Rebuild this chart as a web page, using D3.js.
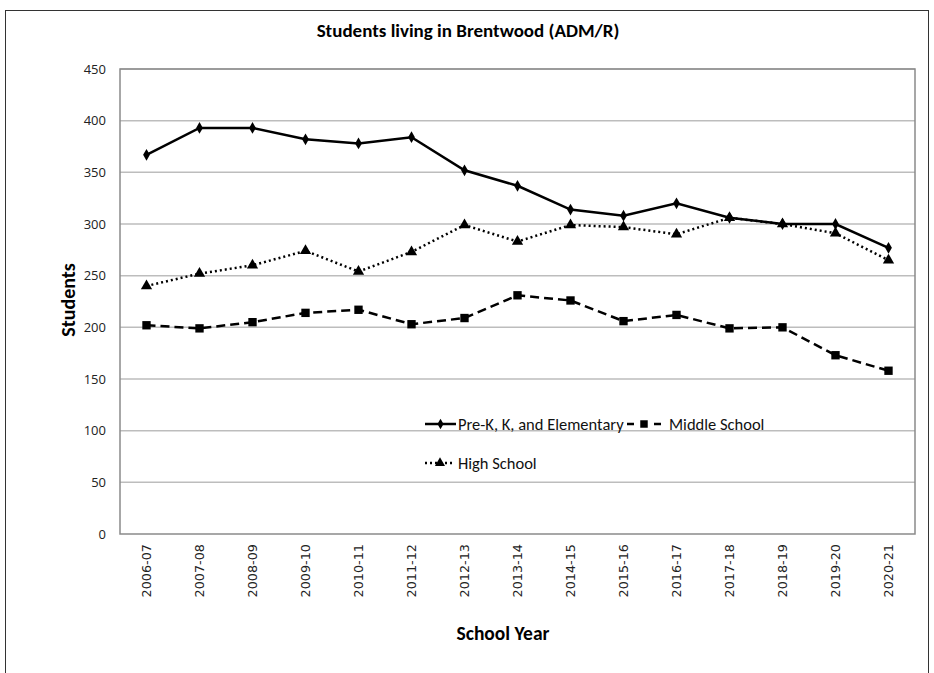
<html>

<head>
    <style>
        body { margin: 0; background: #fff; }
        text { font-family: Carlito, Lato, "Open Sans", sans-serif; }
    </style>
</head>

<body>
    <svg id="chart"></svg>
</body>
<script src="https://cdnjs.cloudflare.com/ajax/libs/d3/7.8.5/d3.min.js"></script>
<script>
    const years = ["2006-07", "2007-08", "2008-09", "2009-10", "2010-11", "2011-12", "2012-13", "2013-14",
        "2014-15", "2015-16", "2016-17", "2017-18", "2018-19", "2019-20", "2020-21"];
    const elementary = [367, 393, 393, 382, 378, 384, 352, 337, 314, 308, 320, 306, 300, 300, 277];
    const middle = [202, 199, 205, 214, 217, 203, 209, 231, 226, 206, 212, 199, 200, 173, 158];
    const high = [240, 252, 260, 274, 254, 273, 299, 283, 299, 297, 290, 306, 300, 291, 265];
    const yTicks = [0, 50, 100, 150, 200, 250, 300, 350, 400, 450];

    const series = [
        { name: "Pre-K, K, and Elementary", values: elementary, dash: null, legendDash: null, marker: d3.symbolDiamond, size: 40 },
        { name: "Middle School", values: middle, dash: "9,5", legendDash: "7,20,7", marker: d3.symbolSquare, size: 70 },
        { name: "High School", values: high, dash: "2,3", legendDash: "2,3", marker: d3.symbolTriangle, size: 55 }
    ];

    const W = 934, H = 673;
    const plotL = 120, plotR = 915, plotT = 69, plotB = 534;

    const svg = d3.select('#chart')
        .attr('width', W)
        .attr('height', H);

    // outer frame
    svg.append('rect')
        .attr('x', 5.5).attr('y', 10.5)
        .attr('width', 923).attr('height', 680)
        .attr('fill', 'none').attr('stroke', '#333').attr('stroke-width', 1);

    const x = d3.scaleBand().domain(years).range([plotL, plotR]);
    const y = d3.scaleLinear().domain([0, 450]).range([plotB, plotT]);

    // gridlines
    svg.append('g')
        .selectAll('line')
        .data(yTicks.slice(1))
        .enter().append('line')
        .attr('x1', plotL).attr('x2', plotR)
        .attr('y1', d => y(d)).attr('y2', d => y(d))
        .attr('stroke', '#bdbdbd').attr('stroke-width', 1.5);

    // plot border
    svg.append('rect')
        .attr('x', plotL).attr('y', plotT)
        .attr('width', plotR - plotL).attr('height', plotB - plotT)
        .attr('fill', 'none').attr('stroke', '#8a8a8a').attr('stroke-width', 1.5);

    // y axis labels
    svg.append('g')
        .selectAll('text')
        .data(yTicks)
        .enter().append('text')
        .attr('x', 106).attr('y', d => y(d))
        .attr('dy', '0.35em')
        .attr('text-anchor', 'end')
        .style('font-family', '"Open Sans", sans-serif')
        .style('font-size', '13px')
        .attr('fill', '#222')
        .text(d => d);

    // x axis labels
    svg.append('g')
        .selectAll('text')
        .data(years)
        .enter().append('text')
        .attr('transform', d => `translate(${x(d) + x.bandwidth() / 2 + 4.5},${plotB + 10}) rotate(-90)`)
        .attr('text-anchor', 'end')
        .style('font-family', '"DejaVu Sans", sans-serif')
        .style('font-size', '12.8px')
        .attr('fill', '#222')
        .text(d => d);

    // titles
    svg.append('text')
        .attr('x', 468).attr('y', 37)
        .attr('text-anchor', 'middle')
        .style('font-size', '19px').style('font-weight', 'bold')
        .text('Students living in Brentwood (ADM/R)');

    svg.append('text')
        .attr('x', 503).attr('y', 640)
        .attr('text-anchor', 'middle')
        .style('font-size', '19.5px').style('font-weight', 'bold')
        .text('School Year');

    svg.append('text')
        .attr('transform', 'translate(75,300) rotate(-90)')
        .attr('text-anchor', 'middle')
        .style('font-size', '20px').style('font-weight', 'bold')
        .text('Students');

    const line = d3.line()
        .x((d, i) => x(years[i]) + x.bandwidth() / 2)
        .y(d => y(d));

    series.forEach(s => {
        svg.append('path')
            .datum(s.values)
            .attr('d', line)
            .attr('fill', 'none')
            .attr('stroke', '#000')
            .attr('stroke-width', 2.5)
            .attr('stroke-dasharray', s.dash);

        svg.append('g')
            .selectAll('path')
            .data(s.values)
            .enter().append('path')
            .attr('transform', (d, i) => `translate(${x(years[i]) + x.bandwidth() / 2},${y(d)})`)
            .attr('d', d3.symbol().type(s.marker).size(s.size))
            .attr('fill', '#000');
    });

    // legend
    const legendItems = [
        { s: series[0], x: 425, y: 424, w: 31, tx: 33 },
        { s: series[1], x: 627, y: 424, w: 34, tx: 42 },
        { s: series[2], x: 425, y: 463, w: 30, tx: 33 }
    ];
    legendItems.forEach(it => {
        const g = svg.append('g').attr('transform', `translate(${it.x},${it.y})`);
        g.append('line')
            .attr('x1', 0).attr('x2', it.w)
            .attr('stroke', '#000').attr('stroke-width', 2.5)
            .attr('stroke-dasharray', it.s.legendDash);
        g.append('path')
            .attr('transform', `translate(${it.w / 2},0)`)
            .attr('d', d3.symbol().type(it.s.marker).size(it.s.size * 0.8))
            .attr('fill', '#000');
        g.append('text')
            .attr('x', it.tx).attr('dy', '0.35em')
            .style('font-size', '16.5px')
            .attr('fill', '#111')
            .text(it.s.name);
    });
</script>

</html>
